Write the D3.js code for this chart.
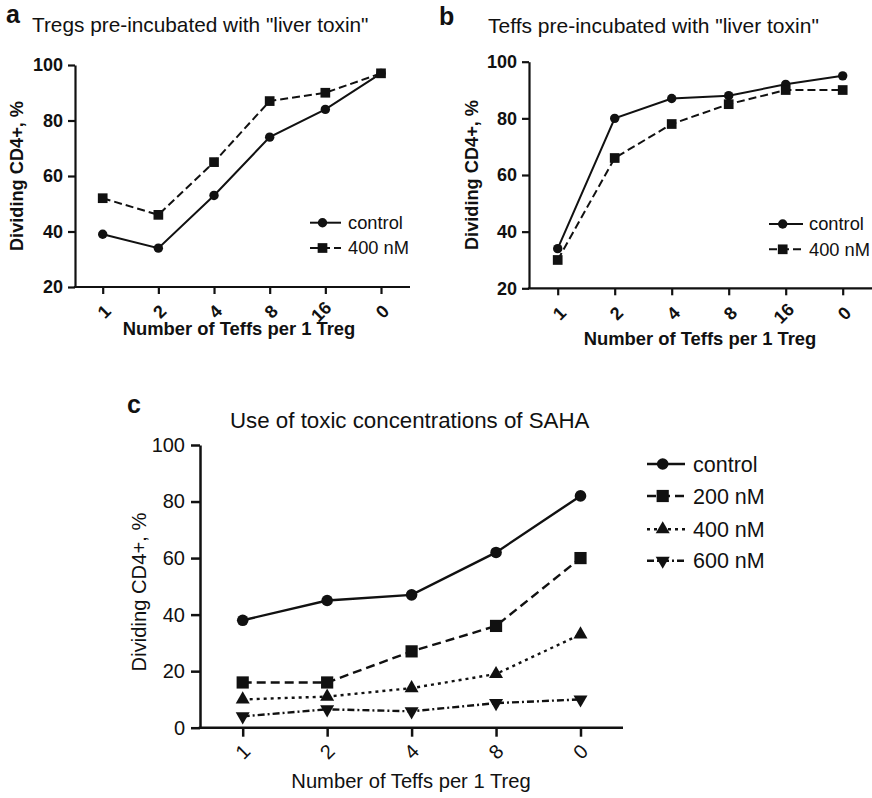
<!DOCTYPE html>
<html><head><meta charset="utf-8">
<script src="https://cdn.jsdelivr.net/npm/d3@7"></script>
<style>
html,body{margin:0;padding:0;background:#fff;}
svg{display:block;font-family:"Liberation Sans",Arial,Helvetica,sans-serif;}
</style></head>
<body>
<svg id="chart" width="872" height="798"></svg>
<script>
// ---- data ----
const catsAB = ["1","2","4","8","16","0"];
const catsC = ["1","2","4","8","0"];
const aControl = [39,34,53,74,84,97];
const a400 = [52,46,65,87,90,97];
const bControl = [34,80,87,88,92,95];
const b400 = [30,66,78,85,90,90];
const cControl = [38,45,47,62,82];
const c200 = [16,16,27,36,60];
const c400 = [10,11,14,19,33];
const c600 = [4,6.5,5.8,8.7,10];
const yTicksAB = [20,40,60,80,100];
const yTicksC = [0,20,40,60,80,100];
const legendAB = ["control","400 nM"];
const legendC = ["control","200 nM","400 nM","600 nM"];

const svg = d3.select("#chart");
const COL = "#111";

function marker(g, type, x, y, sc) {
  if (type === "circle") {
    g.append("circle").attr("cx", x).attr("cy", y).attr("r", sc.r).attr("fill", COL);
  } else if (type === "square") {
    g.append("rect").attr("x", x - sc.sq/2).attr("y", y - sc.sq/2)
      .attr("width", sc.sq).attr("height", sc.sq).attr("fill", COL);
  } else if (type === "tri") {
    g.append("path").attr("d", d3.symbol(d3.symbolTriangle, sc.tri)())
      .attr("transform", `translate(${x},${y})`).attr("fill", COL);
  } else if (type === "tridown") {
    g.append("path").attr("d", d3.symbol(d3.symbolTriangle, sc.tri)())
      .attr("transform", `translate(${x},${y}) rotate(180)`).attr("fill", COL);
  }
}

function panel(cfg) {
  const g = svg.append("g");
  const x = d3.scalePoint().domain(cfg.cats).range(cfg.xr);
  const y = d3.scaleLinear().domain(cfg.yd).range(cfg.yr);

  // y axis
  const ya = g.append("g").attr("transform", `translate(${cfg.axL},0)`)
    .call(d3.axisLeft(y).tickValues(cfg.yticks).tickSize(cfg.tick).tickPadding(cfg.pad).tickSizeOuter(0));
  ya.select(".domain").attr("stroke", COL).attr("stroke-width", cfg.aw);
  ya.selectAll(".tick line").attr("stroke", COL).attr("stroke-width", cfg.aw);
  ya.selectAll(".tick text").attr("fill", COL).style("font-size", cfg.tfs + "px")
    .style("font-weight", cfg.bold ? "bold" : "normal");

  // x axis
  const xa = g.append("g").attr("transform", `translate(0,${cfg.yr[0]})`)
    .call(d3.axisBottom(x).tickSize(cfg.tick).tickSizeOuter(0));
  xa.select(".domain").remove();
  xa.selectAll(".tick line").attr("stroke", COL).attr("stroke-width", cfg.aw);
  xa.selectAll(".tick text").attr("fill", COL).style("font-size", cfg.tfs + "px")
    .style("font-weight", cfg.bold ? "bold" : "normal")
    .attr("x", 0).attr("y", 0).attr("dy", "0.35em").attr("text-anchor", "middle")
    .each(function() {
      const len = this.getComputedTextLength();
      const cx = cfg.lx - cfg.lk * Math.max(0, len - cfg.tfs * 0.556);
      d3.select(this).attr("transform", `translate(${cx},${cfg.ly}) rotate(-45)`);
    });
  g.append("line").attr("x1", cfg.axL - cfg.aw/2).attr("x2", cfg.axR)
    .attr("y1", cfg.yr[0]).attr("y2", cfg.yr[0]).attr("stroke", COL).attr("stroke-width", cfg.aw);

  // series
  const line = d3.line().x((d, i) => x(cfg.cats[i])).y(d => y(d));
  cfg.series.forEach(s => {
    g.append("path").datum(s.values).attr("d", line).attr("fill", "none")
      .attr("stroke", COL).attr("stroke-width", cfg.lw)
      .attr("stroke-dasharray", s.dash || null);
  });
  cfg.series.forEach(s => {
    s.values.forEach((v, i) => marker(g, s.type, x(cfg.cats[i]), y(v), cfg.ms));
  });

  // legend
  cfg.series.forEach((s, i) => {
    const ly = cfg.leg.y[i];
    g.append("line").attr("x1", cfg.leg.x0).attr("x2", cfg.leg.x1).attr("y1", ly).attr("y2", ly)
      .attr("stroke", COL).attr("stroke-width", cfg.lw).attr("stroke-dasharray", s.dash || null);
    marker(g, s.type, cfg.leg.xm, ly, cfg.ms);
    g.append("text").attr("x", cfg.leg.xt).attr("y", ly).attr("dy", "0.35em")
      .style("font-size", cfg.leg.fs + "px").attr("fill", COL).text(s.name);
  });

  // titles
  g.append("text").attr("x", cfg.title.x).attr("y", cfg.title.y)
    .style("font-size", cfg.title.fs + "px").attr("fill", COL).text(cfg.title.text);
  g.append("text").attr("x", cfg.letter.x).attr("y", cfg.letter.y)
    .style("font-size", cfg.letter.fs + "px").style("font-weight", "bold").attr("fill", COL).text(cfg.letter.text);
  g.append("text").attr("text-anchor", "middle")
    .attr("transform", `translate(${cfg.yt.x},${cfg.yt.y}) rotate(-90)`).attr("dy", "0.35em")
    .style("font-size", cfg.yt.fs + "px").style("font-weight", cfg.bold ? "bold" : "normal")
    .attr("fill", COL).text("Dividing CD4+, %");
  g.append("text").attr("text-anchor", "middle").attr("x", cfg.xt.x).attr("y", cfg.xt.y)
    .style("font-size", cfg.xt.fs + "px").style("font-weight", cfg.bold ? "bold" : "normal")
    .attr("fill", COL).text("Number of Teffs per 1 Treg");
}

const msAB = {r: 4.7, sq: 9.7, tri: 70};
const msC = {r: 5.8, sq: 12.2, tri: 85};

panel({
  cats: catsAB, xr: [102.7, 381], yd: [20, 100], yr: [287, 65], yticks: yTicksAB,
  axL: 75, axR: 410, tick: 7, pad: 5, aw: 2.2, lw: 2, tfs: 18, bold: true, lx: 0.8, lk: 0.55, ly: 24.5,
  ms: msAB,
  series: [
    {name: legendAB[0], values: aControl, type: "circle"},
    {name: legendAB[1], values: a400, type: "square", dash: "8,4"}
  ],
  leg: {x0: 310, x1: 341, xm: 322.5, xt: 348, y: [222.7, 248], fs: 18.3},
  title: {x: 32, y: 32, fs: 20.8, text: 'Tregs pre-incubated with "liver toxin"'},
  letter: {x: 6, y: 23, fs: 25, text: "a"},
  yt: {x: 17, y: 176, fs: 18.2},
  xt: {x: 239, y: 335, fs: 18.4}
});

panel({
  cats: catsAB, xr: [557.7, 842.7], yd: [20, 100], yr: [288.3, 61.7], yticks: yTicksAB,
  axL: 529, axR: 872, tick: 7, pad: 5, aw: 2.2, lw: 2, tfs: 18, bold: true, lx: 1, lk: 0.35, ly: 25,
  ms: msAB,
  series: [
    {name: legendAB[0], values: bControl, type: "circle"},
    {name: legendAB[1], values: b400, type: "square", dash: "8,4"}
  ],
  leg: {x0: 769, x1: 803, xm: 782.7, xt: 809, y: [224, 249.3], fs: 18.3},
  title: {x: 488, y: 33, fs: 21, text: 'Teffs pre-incubated with "liver toxin"'},
  letter: {x: 439, y: 25, fs: 25, text: "b"},
  yt: {x: 471.5, y: 175, fs: 18.2},
  xt: {x: 700, y: 345, fs: 18.4}
});

panel({
  cats: catsC, xr: [242.7, 580.5], yd: [0, 100], yr: [727.7, 445], yticks: yTicksC,
  axL: 200, axR: 623, tick: 9, pad: 6, aw: 2.5, lw: 2.4, tfs: 20, bold: false, lx: -0.5, lk: 0, ly: 24,
  ms: msC,
  series: [
    {name: legendC[0], values: cControl, type: "circle"},
    {name: legendC[1], values: c200, type: "square", dash: "9,5"},
    {name: legendC[2], values: c400, type: "tri", dash: "3,4"},
    {name: legendC[3], values: c600, type: "tridown", dash: "7,3,2,3"}
  ],
  leg: {x0: 647, x1: 685, xm: 662.7, xt: 693, y: [464, 496, 529.3, 560.7], fs: 21.5},
  title: {x: 230, y: 428, fs: 22.3, text: "Use of toxic concentrations of SAHA"},
  letter: {x: 127, y: 413, fs: 25, text: "c"},
  yt: {x: 139, y: 592, fs: 20.2},
  xt: {x: 411, y: 788, fs: 20.2}
});
</script>
</body></html>
